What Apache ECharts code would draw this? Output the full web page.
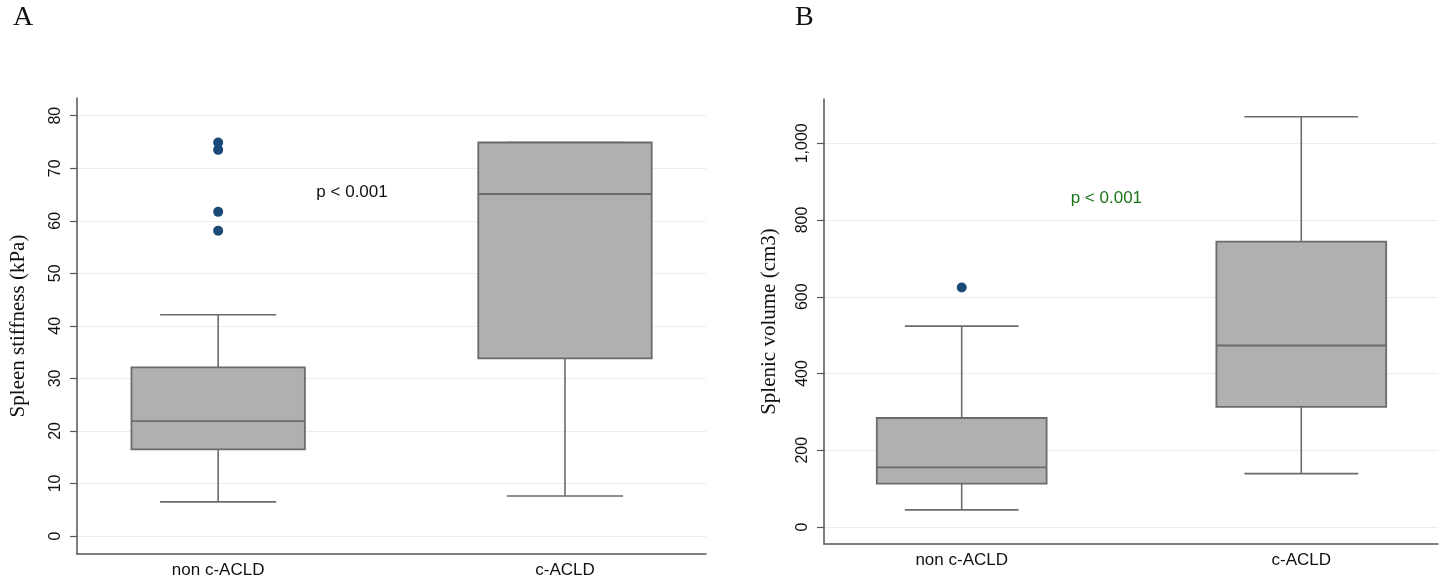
<!DOCTYPE html>
<html>
<head>
<meta charset="utf-8">
<script src="https://cdn.jsdelivr.net/npm/echarts@6/dist/echarts.min.js"></script>
<style>
html,body{margin:0;padding:0;background:#fff;}
#c{width:1440px;height:582px;}
</style>
</head>
<body>
<div id="c"></div>
<script>
// ---- Data ----
const categories = ['non c-ACLD', 'c-ACLD'];

// Panel A: spleen stiffness (kPa): [min, Q1, median, Q3, max]
const stiffnessBoxes = [
  [6.5, 16.5, 21.85, 32.1, 42.1],
  [7.6, 33.8, 65.1, 74.9, 74.9]
];
const stiffnessOutliers = [
  [0, 74.9], [0, 73.5], [0, 61.7], [0, 58.1]
];
const stiffnessTicks = [0, 10, 20, 30, 40, 50, 60, 70, 80];

// Panel B: splenic volume (cm3): [min, Q1, median, Q3, max]
const volumeBoxes = [
  [44.7, 113, 155.6, 284, 523.5],
  [139, 312.8, 473, 743.7, 1069]
];
const volumeOutliers = [
  [0, 624]
];
const volumeTicks = [0, 200, 400, 600, 800, 1000];

const pText = 'p < 0.001';
const pLabelA = [0.386, 65.5];
const pLabelB = [0.426, 857];

// ---- Styles ----
const BOX_W = 0.5, CAP_W = 0.335;
const LINE_C = '#6b6b6b', FILL_C = '#b0b0b0', DOT_C = '#1b4a78';
const AXIS_C = '#555555', GRID_C = '#e6eef1';
const SANS = 'Liberation Sans', SERIF = 'Liberation Serif';

function boxData(boxes) {
  return boxes.map((b, i) => [i].concat(b));
}

function renderBox(params, api) {
  const x = api.value(0);
  const lo = api.coord([x, api.value(1)]);
  const q1 = api.coord([x, api.value(2)]);
  const md = api.coord([x, api.value(3)]);
  const q3 = api.coord([x, api.value(4)]);
  const hi = api.coord([x, api.value(5)]);
  const bw = api.size([BOX_W, 0])[0];
  const cw = api.size([CAP_W, 0])[0];
  const cx = lo[0];
  const ls = { stroke: LINE_C, lineWidth: 1.6 };
  return {
    type: 'group',
    children: [
      { type: 'line', shape: { x1: cx, y1: lo[1], x2: cx, y2: q1[1] }, style: ls },
      { type: 'line', shape: { x1: cx, y1: q3[1], x2: cx, y2: hi[1] }, style: ls },
      { type: 'line', shape: { x1: cx - cw / 2, y1: lo[1], x2: cx + cw / 2, y2: lo[1] }, style: ls },
      { type: 'line', shape: { x1: cx - cw / 2, y1: hi[1], x2: cx + cw / 2, y2: hi[1] }, style: ls },
      { type: 'rect', shape: { x: cx - bw / 2, y: q3[1], width: bw, height: q1[1] - q3[1] },
        style: { fill: FILL_C, stroke: LINE_C, lineWidth: 1.8 } },
      { type: 'line', shape: { x1: cx - bw / 2, y1: md[1], x2: cx + bw / 2, y2: md[1] },
        style: { stroke: LINE_C, lineWidth: 1.8 } }
    ]
  };
}

function xAxisDef(gridIndex, min, max) {
  return {
    type: 'value', gridIndex, min, max,
    axisLine: { show: true, onZero: false, lineStyle: { color: AXIS_C, width: 1.5 } },
    axisTick: { show: false },
    splitLine: { show: false },
    axisLabel: {
      customValues: [0, 1],
      formatter: v => categories[Math.round(v)] || '',
      color: '#111', fontFamily: SANS, fontSize: 17, margin: 8
    }
  };
}

function yAxisDef(gridIndex, min, max, ticks, name, nameGap, fmt) {
  return {
    type: 'value', gridIndex, min, max,
    name, nameLocation: 'middle', nameGap,
    nameTextStyle: { fontFamily: SERIF, fontSize: 21, color: '#111' },
    axisLine: { show: true, onZero: false, lineStyle: { color: AXIS_C, width: 1.5 } },
    axisTick: { show: true, length: 7, customValues: ticks, lineStyle: { color: AXIS_C, width: 1.2 } },
    splitLine: { show: true, lineStyle: { color: GRID_C, width: 1.2 } },
    axisLabel: {
      customValues: ticks, rotate: 90, margin: 13,
      formatter: fmt,
      color: '#111', fontFamily: SANS, fontSize: 16
    }
  };
}

const chart = echarts.init(document.getElementById('c'), null, { renderer: 'canvas' });
chart.setOption({
  animation: false,
  backgroundColor: '#fff',
  grid: [
    { left: 77, top: 98, width: 629, height: 456 },
    { left: 824, top: 99, width: 614, height: 445 }
  ],
  xAxis: [
    xAxisDef(0, -0.407, 1.4066),
    xAxisDef(1, -0.4055, 1.4026)
  ],
  yAxis: [
    yAxisDef(0, -3.43, 83.37, stiffnessTicks, 'Spleen stiffness (kPa)', 48, v => String(v)),
    yAxisDef(1, -44.3, 1115.4, volumeTicks, 'Splenic volume (cm3)', 44,
      v => v >= 1000 ? Math.floor(v / 1000) + ',' + String(v % 1000).padStart(3, '0') : String(v))
  ],
  graphic: [
    { type: 'text', left: 13, top: 4, style: { text: 'A', font: '28px "Liberation Serif"', fill: '#111' } },
    { type: 'text', left: 795, top: 4, style: { text: 'B', font: '28px "Liberation Serif"', fill: '#111' } }
  ],
  series: [
    { type: 'custom', xAxisIndex: 0, yAxisIndex: 0, renderItem: renderBox,
      encode: { x: 0, y: [1, 2, 3, 4, 5] }, data: boxData(stiffnessBoxes), silent: true, z: 2 },
    { type: 'scatter', xAxisIndex: 0, yAxisIndex: 0, data: stiffnessOutliers,
      symbolSize: 10, itemStyle: { color: DOT_C, opacity: 1 }, z: 3 },
    { type: 'scatter', xAxisIndex: 0, yAxisIndex: 0, data: [pLabelA], symbolSize: 0, silent: true,
      itemStyle: { opacity: 1 },
      label: { show: true, position: 'inside', formatter: pText, color: '#111', fontFamily: SANS, fontSize: 17 } },
    { type: 'custom', xAxisIndex: 1, yAxisIndex: 1, renderItem: renderBox,
      encode: { x: 0, y: [1, 2, 3, 4, 5] }, data: boxData(volumeBoxes), silent: true, z: 2 },
    { type: 'scatter', xAxisIndex: 1, yAxisIndex: 1, data: volumeOutliers,
      symbolSize: 10, itemStyle: { color: DOT_C, opacity: 1 }, z: 3 },
    { type: 'scatter', xAxisIndex: 1, yAxisIndex: 1, data: [pLabelB], symbolSize: 0, silent: true,
      itemStyle: { opacity: 1 },
      label: { show: true, position: 'inside', formatter: pText, color: '#1a741a', fontFamily: SANS, fontSize: 17 } }
  ]
});
</script>
</body>
</html>
